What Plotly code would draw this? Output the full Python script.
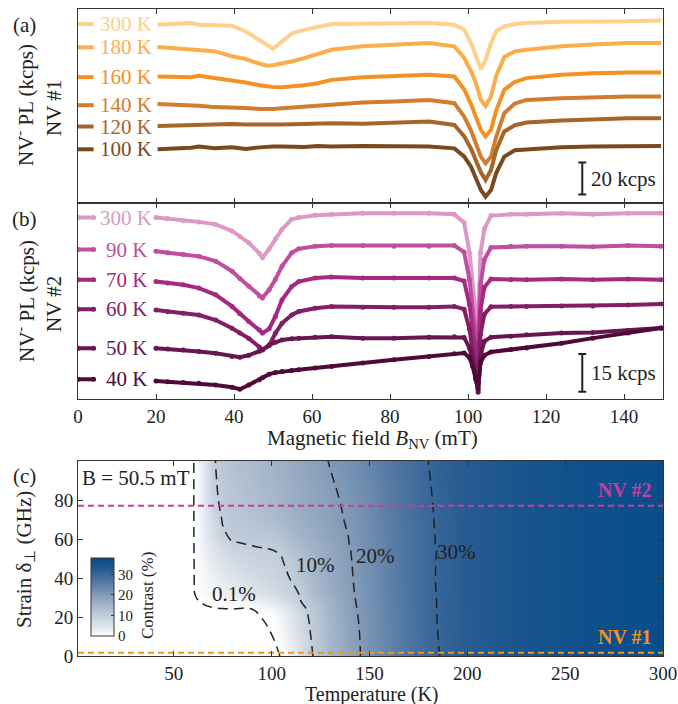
import plotly.graph_objects as go

# ---------------- data ----------------
# Panel (a): NV #1 PL vs magnetic field (kcps, relative to value at 0 mT)
B_a = [0, 4, 20.4, 25, 29, 31, 35, 39.5, 43, 46.5, 48.5, 50, 52.3, 55, 58, 61.5, 65, 73, 81, 90,
       96.5, 99, 100.8, 102, 103.3, 104.5, 105.9, 107.2, 109.3, 112, 115, 124, 132, 141, 149.5]
temps_a = ["300 K", "180 K", "160 K", "140 K", "120 K", "100 K"]
pl_a_300 = [0, 0, -0.4, 0, 0.6, -0.4, -0.6, -1, -4.6, -10, -13.5, -15.4, -10.8, -5.6, -3.6, -1.6, 0, 0.2, 0.2, 0.6,
            -0.4, -3.5, -12, -19.4, -28, -22.5, -12, -4.6, -1.5, 0, 0.6, 1.5, 1.5, 1.7, 2.3]
pl_a_180 = [0, 0, 0.2, -0.6, -1.2, -1.5, -2.4, -5.6, -7.3, -10.2, -11.5, -11.2, -10.2, -8.7, -6.7, -4.2, -1.5, 0.6, 1.7, 2.7,
            0.6, -6.5, -15, -22, -32.7, -36.5, -30.6, -18, -6, -2.5, -1.5, 0.6, 1.7, 2.7, 2.7]
pl_a_160 = [0, 0, 0.4, 0.2, 0, 0.8, -0.6, -1.7, -3.4, -5, -5.9, -6.2, -6.25, -5.8, -5, -3.8, -1.7, 0, 0.8, 1.5,
            0.4, -7.5, -17, -25, -32.9, -37, -32.9, -21, -7.9, -3, -0.6, 1.5, 2.5, 2.9, 2.9]
pl_a_140 = [0, 0, 0.8, 0.4, 0, -0.4, -1.2, -1.25, -1.8, -2.3, -2.5, -2.3, -1.9, -1.4, -0.9, -0.2, 0.6, 1.7, 2.3, 3.3,
            1.25, -7, -16, -24, -32.1, -36.25, -32.1, -20, -5, 1, 3.3, 4.4, 5, 5.4, 5.4]
pl_a_120 = [0, 0, 0.4, 0.8, 1.1, 1.25, 1.4, 1.5, 1.2, 1, 1, 1.1, 1.2, 1.4, 1.6, 1.9, 2.1, 1.7, 2.5, 3.1,
            1, -6, -14, -21, -28.5, -33.3, -27.1, -15, -3.1, 0.8, 2.5, 3.75, 4.6, 5.2, 5.2]
pl_a_100 = [0, 0, 0, 0.4, 1, 1.7, 0.6, 1.25, 0.2, 1.2, 1.7, 1.7, 1.7, 1.4, 1.4, 2.1, 1.7, 2.1, 1.7, 1.7,
            0.6, -4.4, -11, -18, -25.4, -29.6, -25.4, -15, -4.6, -0.6, 0, 1.25, 1.7, 2.1, 2.1]
offsets_a = [111.6, 97.1, 78.5, 61.0, 47.7, 33.5]
scalebar_a = 20  # kcps

# Panel (b): NV #2
B_b = [0, 4, 20, 23, 27, 31, 35.3, 39.5, 41.5, 43.8, 46.5, 47.3, 49, 50.6, 52.3, 54.8, 56.6, 60.8, 65, 73,
       81, 90, 96.5, 99, 100.4, 101.2, 102, 102.6, 103.2, 104.2, 105.9, 111, 115, 124, 132, 141, 149.5]
temps_b = ["300 K", "90 K", "70 K", "60 K", "50 K", "40 K"]
pl_b_300 = [0, 0, 0, -0.4, -1.3, -1.7, -2.7, -5.3, -7.5, -10, -14.2, -15.9, -12.5, -8.5, -4.6, -0.7, 0, 0.9, 1.3, 1.7,
            1.7, 1.7, 1.3, -2, -14, -28, -38, -41.7, -14, -4.5, 0.8, 1.3, 1.3, 1.7, 1.3, 1.7, 1.7]
pl_b_90 = [0, 0, -0.7, -1.3, -2, -2.7, -4.6, -8.6, -11.5, -14.6, -18.5, -19.2, -16, -11.9, -6.6, -1.3, 0.3, 1.3, 1.6, 1.6,
           1.3, 1.3, 1.6, -1, -12, -24, -34, -38.5, -14, -4, 0.8, 1.3, 1.3, 1.3, 1.1, 1.6, 1.3]
pl_b_70 = [0, 0, -0.7, -1.3, -2, -3.3, -6, -10.6, -13.5, -16.6, -20, -21.2, -19.5, -14.6, -8, -2.7, -0.7, 0.7, 1.1, 0.7,
           0.7, 0.7, 0.7, -0.5, -10, -20, -29, -33.3, -12, -3, 0.3, 0, 0, 0.3, 0, 0.3, 0]
pl_b_60 = [0, 0, -0.3, -1, -1.6, -2.3, -4.3, -7.6, -9.5, -11.6, -15, -16, -14.5, -9.6, -5.6, -2.3, -0.9, 0.4, 1.1, 0.8,
           0.8, 0.8, 1.1, 0, -8, -17, -24.5, -28, -10, -2, 1, 1.1, 1.1, 1.3, 1.3, 1.7, 2.1]
pl_b_50 = [0, 0, 0, -0.3, -0.7, -1.3, -2, -3.3, -3.6, -2.8, -1.2, -0.7, 1.3, 2.4, 3.3, 3.8, 4, 4.4, 4.6, 4,
           4, 4.4, 4.6, 4.3, 0, -5, -12, -17.5, -3, 2.8, 4.4, 4.8, 5.3, 6, 6.2, 7, 8]
pl_b_40 = [0, 0, -0.7, -1, -1.3, -1.6, -2.3, -3.2, -4, -2.3, -0.2, 0.6, 2, 2.6, 3, 3.4, 3.7, 4.4, 5, 6.4,
           7.7, 9, 10.1, 10.4, 8.5, 5, 0, -4, 6.5, 9.5, 10.8, 11.8, 12.4, 14.3, 16.3, 18.3, 20.3]
offsets_b = [72.2, 59.5, 47.5, 35.8, 20.3, 8.0]
scalebar_b = 15  # kcps

# Panel (c): contrast map (%) vs temperature (K) and strain (GHz), B = 50.5 mT
T_grid = [1, 60, 62, 65, 70, 75, 80, 90, 100, 105, 110, 115, 120, 130, 140, 150, 160, 180, 200, 225, 250, 275, 300]
strain_grid = [0, 10, 20, 24, 28, 32, 40, 50, 54, 58, 60, 70, 80, 100]
contrast = [
    [0, 0, 0, 0, 0, 0, 0, 0, 0, 0.12, 2.5, 6, 9.5, 14.3, 18.4, 21.4, 24.1, 29.2, 31.9, 34.5, 36, 37, 37.5],
    [0, 0, 0, 0, 0, 0, 0, 0, 0.08, 1, 3.3, 6.7, 10, 14.5, 18.5, 21.5, 24.2, 29.3, 32.1, 34.5, 36, 37, 37.5],
    [0, 0, 0, 0, 0, 0, 0, 0.02, 0.2, 2, 4.6, 7.7, 10.8, 14.8, 18.8, 21.7, 24.3, 29.4, 32.1, 34.5, 36, 37, 37.5],
    [0, 0, 0, 0.005, 0.02, 0.04, 0.06, 0.1, 1.5, 3, 5.5, 8.8, 11, 15, 19, 21.8, 24.4, 29.4, 32.2, 34.5, 36, 37, 37.5],
    [0, 0, 0.02, 0.15, 0.4, 0.8, 1.3, 2.4, 4, 5.5, 7.8, 10, 12, 15.5, 19.2, 21.9, 24.5, 29.4, 32.2, 34.5, 36, 37, 37.5],
    [0, 0, 0.3, 0.8, 1.5, 2.4, 3.2, 4.8, 6.6, 7.8, 9.1, 10.3, 12.8, 16.5, 19.4, 22, 24.6, 29.45, 32.2, 34.5, 36, 37, 37.5],
    [0, 0, 0.5, 1.3, 2.5, 3.8, 5, 6.8, 8.3, 9.1, 10.2, 12, 13.8, 17, 19.6, 22.1, 24.7, 29.5, 32.2, 34.5, 36, 37, 37.5],
    [0, 0, 0.6, 2, 4, 6, 7.3, 8.7, 9.4, 9.9, 11.3, 12.9, 14.5, 17.3, 19.8, 22.2, 24.8, 29.45, 32.2, 34.5, 36, 37, 37.5],
    [0, 0, 0.7, 2.3, 4.6, 6.8, 8.4, 9.5, 9.9, 10.3, 12, 13.5, 15, 17.6, 19.9, 22.3, 24.9, 29.4, 32.2, 34.5, 36, 37, 37.5],
    [0, 0, 0.8, 2.6, 5.4, 7.9, 9.8, 10.3, 10.7, 11.3, 13.2, 14.4, 15.6, 18, 20.1, 22.4, 25, 29.5, 32.3, 34.5, 36, 37, 37.5],
    [0, 0, 0.8, 2.8, 6, 9.3, 10.3, 10.8, 11.4, 12, 13.8, 14.9, 16, 18.5, 20.1, 22.5, 25, 29.5, 32.3, 34.5, 36, 37, 37.5],
    [0, 0, 0.9, 3.2, 7.5, 10.3, 11.3, 12.2, 13.3, 14.2, 15.2, 16.2, 17.2, 18.9, 20.5, 22.8, 25.3, 29.6, 32.4, 34.5, 36, 37, 37.5],
    [0, 0, 1, 3.5, 9, 10.8, 11.8, 13, 14.3, 15.2, 16.1, 17, 17.8, 19.3, 20.8, 23, 25.5, 29.7, 32.5, 34.5, 36, 37, 37.5],
    [0, 0, 1, 3.8, 9.5, 11.5, 12.5, 13.8, 15.2, 16, 16.9, 17.7, 18.5, 20.2, 22, 24, 26, 30, 32.5, 34.5, 36, 37, 37.5],
]
contour_levels_low = [0.1]
contour_levels_high = [10, 20, 30]
nv_names = ["NV #1", "NV #2"]
nv_strain = [1.7, 77]
T_span = [1, 300]

# ---------------- styles ----------------
FONT = "Liberation Serif"
INK = "#222222"
colors_a = ["rgb(253,208,140)", "rgb(250,173,72)", "rgb(243,145,35)", "rgb(208,125,45)",
            "rgb(165,100,42)", "rgb(122,74,30)"]
colors_b = ["rgb(221,152,198)", "rgb(190,78,160)", "rgb(165,40,130)", "rgb(130,30,100)",
            "rgb(104,22,80)", "rgb(78,10,58)"]
nv_colors = ["rgb(243,148,30)", "rgb(200,60,165)"]


def gap(seq):
    return list(seq[:2]) + [None] + list(seq[2:])


fig = go.Figure()

# panel (a)
curves_a = [pl_a_300, pl_a_180, pl_a_160, pl_a_140, pl_a_120, pl_a_100]
for vals, off, col in zip(curves_a, offsets_a, colors_a):
    fig.add_trace(go.Scatter(x=gap(B_a), y=gap([off + v for v in vals]), mode="lines",
                             line=dict(color=col, width=4), connectgaps=False,
                             showlegend=False, xaxis="x", yaxis="y"))

# panel (b)
curves_b = [pl_b_300, pl_b_90, pl_b_70, pl_b_60, pl_b_50, pl_b_40]
for vals, off, col in zip(curves_b, offsets_b, colors_b):
    fig.add_trace(go.Scatter(x=gap(B_b), y=gap([off + v for v in vals]), mode="lines+markers",
                             line=dict(color=col, width=4), marker=dict(color=col, size=5),
                             connectgaps=False, showlegend=False, xaxis="x2", yaxis="y2"))

# scale bars
fig.add_trace(go.Scatter(x=[129.3], y=[15.25], mode="markers", marker=dict(size=1, color="rgba(0,0,0,0)"),
                         error_y=dict(type="data", array=[scalebar_a / 2], width=4, thickness=2, color=INK),
                         showlegend=False, xaxis="x", yaxis="y"))
fig.add_trace(go.Scatter(x=[129.3], y=[10.5], mode="markers", marker=dict(size=1, color="rgba(0,0,0,0)"),
                         error_y=dict(type="data", array=[scalebar_b / 2], width=4, thickness=2, color=INK),
                         showlegend=False, xaxis="x2", yaxis="y2"))

# panel (c)
cscale = [[0.0, "rgb(255,255,255)"], [0.1, "rgb(228,233,239)"], [0.3, "rgb(186,199,214)"],
          [0.5, "rgb(138,160,187)"], [0.7, "rgb(80,118,162)"], [0.85, "rgb(38,91,145)"],
          [1.0, "rgb(6,76,138)"]]
fig.add_trace(go.Heatmap(x=T_grid, y=strain_grid, z=contrast, zsmooth="best", colorscale=cscale,
                         zmin=0, zmax=38, xaxis="x3", yaxis="y3",
                         colorbar=dict(x=0.0217, xanchor="left", y=0.0912, yanchor="middle",
                                       len=78, lenmode="pixels", thickness=23, thicknessmode="pixels",
                                       xpad=0, ypad=0, outlinewidth=1, outlinecolor="#333",
                                       tickvals=[0, 10, 20, 30], ticks="inside", ticklen=3,
                                       tickcolor="#333", tickfont=dict(family=FONT, size=15, color=INK))))
for levels in (contour_levels_low, contour_levels_high):
    fig.add_trace(go.Contour(x=T_grid, y=strain_grid, z=contrast, showscale=False,
                             contours=dict(coloring="none", start=levels[0], end=levels[-1],
                                           size=(levels[1] - levels[0]) if len(levels) > 1 else 1),
                             line=dict(color="#222", width=1.5, dash="10px,6px", smoothing=1.3),
                             hoverinfo="skip", xaxis="x3", yaxis="y3"))
for s, col in zip(nv_strain, nv_colors):
    fig.add_trace(go.Scatter(x=T_span, y=[s, s], mode="lines",
                             line=dict(color=col, width=2, dash="6px,4px"),
                             showlegend=False, xaxis="x3", yaxis="y3"))

# ---------------- layout ----------------
W, H = 678, 704
ML, MR, MT, MB = 78, 15, 9, 48
PW, PH = W - ML - MR, H - MT - MB


def px(x):
    return (x - ML) / PW


def py(y):
    return (H - MB - y) / PH


axis_common = dict(showline=True, linecolor="#333", linewidth=1, mirror="ticks", ticks="inside",
                   ticklen=5, tickcolor="#333", showgrid=False, zeroline=False, automargin=False,
                   tickfont=dict(family=FONT, size=19, color=INK))

fig.update_layout(
    width=W, height=H, autosize=False, margin=dict(l=ML, r=MR, t=MT, b=MB, autoexpand=False),
    paper_bgcolor="white", plot_bgcolor="white",
    font=dict(family=FONT, color=INK),
    showlegend=False,
    xaxis=dict(axis_common, domain=[0, 1], range=[0, 150], anchor="y",
               tickvals=[0, 20, 40, 60, 80, 100, 120, 140], showticklabels=False),
    yaxis=dict(axis_common, domain=[py(203), 1], range=[0, 121], anchor="x",
               ticks="", showticklabels=False, mirror=True),
    xaxis2=dict(axis_common, domain=[0, 1], range=[0, 150], anchor="y2",
                tickvals=[0, 20, 40, 60, 80, 100, 120, 140]),
    yaxis2=dict(axis_common, domain=[py(399.3), py(203)], range=[0, 78], anchor="x2",
                ticks="", showticklabels=False, mirror=True),
    xaxis3=dict(axis_common, domain=[0, 1], range=[1, 300], anchor="y3",
                tickvals=[50, 100, 150, 200, 250, 300]),
    yaxis3=dict(axis_common, domain=[0, py(461)], range=[0, 100], anchor="x3",
                tickvals=[0, 20, 40, 60, 80]),
)

ann = []


def text(x, y, s, size=21, color=INK, angle=0, xref="paper", yref="paper", xanchor="center", bold=False):
    ann.append(dict(x=x, y=y, xref=xref, yref=yref, text=("<b>%s</b>" % s) if bold else s,
                    showarrow=False, textangle=angle, xanchor=xanchor, yanchor="middle",
                    font=dict(family=FONT, size=size, color=color)))


# temperature labels
for t, off, col in zip(temps_a, offsets_a, colors_a):
    text(12.4, off, t, color=col, xref="x", yref="y")
for t, off, col in zip(temps_b, offsets_b, colors_b):
    text(12.4, off, t, color=col, xref="x2", yref="y2")

text(131, 15.25, "%d kcps" % scalebar_a, xref="x", yref="y", xanchor="left")
text(131, 10.5, "%d kcps" % scalebar_b, xref="x2", yref="y2", xanchor="left")

# panel letters
text(px(24), py(25), "(a)")
text(px(24), py(219), "(b)")
text(px(24), py(476), "(c)")

# axis titles
text(px(25), py(105), "NV<sup>-</sup> PL (kcps)", angle=-90)
text(px(54), py(108), "NV #1", angle=-90)
text(px(25), py(301), "NV<sup>-</sup> PL (kcps)", angle=-90)
text(px(54), py(304), "NV #2", angle=-90)
text(px(372), py(439), "Magnetic field <i>B</i><sub>NV</sub> (mT)")
text(px(25), py(560), "Strain δ<sub>⊥</sub> (GHz)", angle=-90)
text(px(372), py(694), "Temperature (K)", size=20)
text(px(147), py(596), "Contrast (%)", size=17, angle=-90)

# panel (c) labels
text(30.8, 91.4, "B = 50.5 mT", xref="x3", yref="y3")
text(80.5, 31.7, "0.1%", xref="x3", yref="y3")
text(122.4, 46.9, "10%", xref="x3", yref="y3")
text(153, 51.4, "20%", xref="x3", yref="y3")
text(194.7, 53.4, "30%", xref="x3", yref="y3")
text(295.5, 9.8, nv_names[0], size=20, color=nv_colors[0], xref="x3", yref="y3", xanchor="right", bold=True)
text(295.5, 85.2, nv_names[1], size=20, color=nv_colors[1], xref="x3", yref="y3", xanchor="right", bold=True)

fig.update_layout(annotations=ann)
fig.write_html(
    "out.html",
    config={"displayModeBar": False, "responsive": False},
    post_script=("document.documentElement.style.overflow='hidden';"
                 "document.body.style.overflow='hidden';"
                 "document.body.style.margin='0px';"),
)
